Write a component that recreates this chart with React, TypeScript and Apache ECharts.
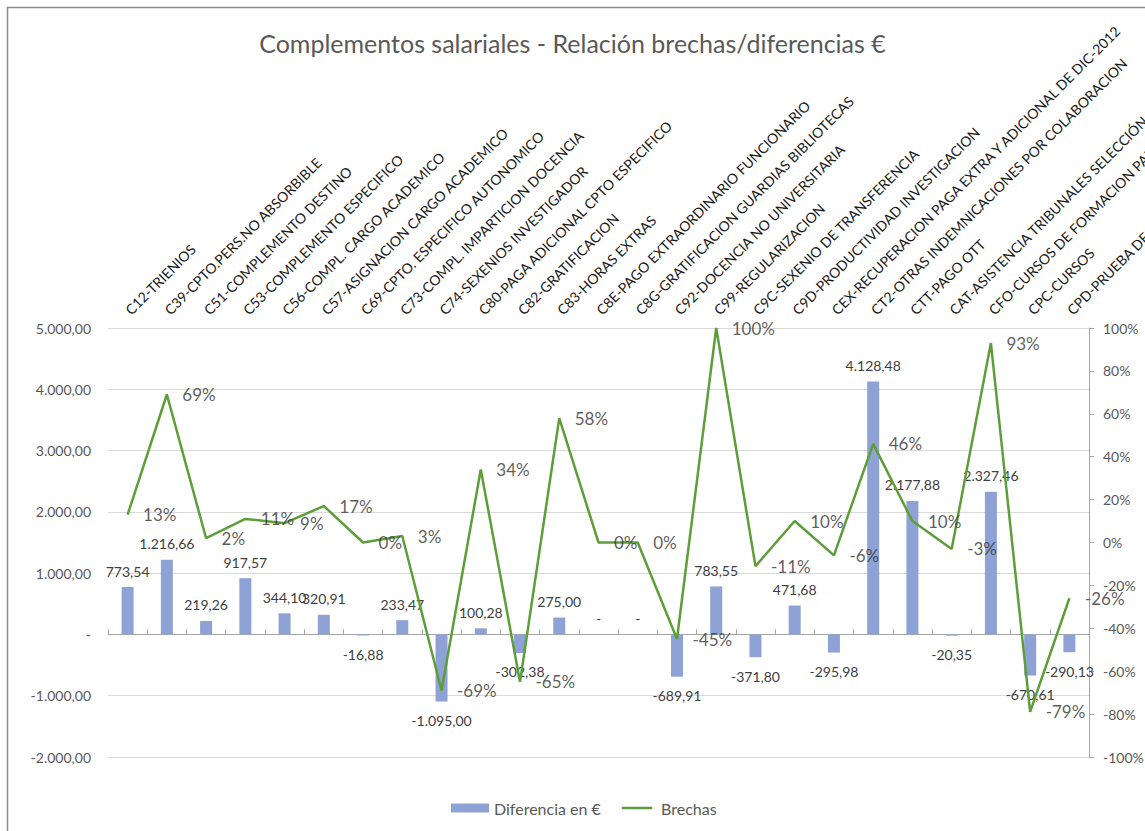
import React, { useEffect, useRef } from "react";
import * as echarts from "echarts";

const title = "Complementos salariales - Relación brechas/diferencias €";

const categories = [
  "C12-TRIENIOS",
  "C39-CPTO.PERS.NO ABSORBIBLE",
  "C51-COMPLEMENTO DESTINO",
  "C53-COMPLEMENTO ESPECIFICO",
  "C56-COMPL. CARGO ACADEMICO",
  "C57-ASIGNACION CARGO ACADEMICO",
  "C69-CPTO. ESPECIFICO AUTONOMICO",
  "C73-COMPL. IMPARTICION DOCENCIA",
  "C74-SEXENIOS INVESTIGADOR",
  "C80-PAGA ADICIONAL CPTO ESPECIFICO",
  "C82-GRATIFICACION",
  "C83-HORAS EXTRAS",
  "C8E-PAGO EXTRAORDINARIO FUNCIONARIO",
  "C8G-GRATIFICACION GUARDIAS BIBLIOTECAS",
  "C92-DOCENCIA NO UNIVERSITARIA",
  "C99-REGULARIZACION",
  "C9C-SEXENIO DE TRANSFERENCIA",
  "C9D-PRODUCTIVIDAD INVESTIGACION",
  "CEX-RECUPERACION PAGA EXTRA Y ADICIONAL DE DIC-2012",
  "CT2-OTRAS INDEMNICACIONES POR COLABORACION",
  "CTT-PAGO OTT",
  "CAT-ASISTENCIA TRIBUNALES SELECCIÓN DE",
  "CFO-CURSOS DE FORMACION PARA",
  "CPC-CURSOS",
  "CPD-PRUEBA DE",
];

const diferencias = [
  773.54, 1216.66, 219.26, 917.57, 344.1, 320.91, -16.88, 233.47, -1095.0,
  100.28, -302.38, 275.0, 0, 0, -689.91, 783.55, -371.8, 471.68, -295.98,
  4128.48, 2177.88, -20.35, 2327.46, -670.61, -290.13,
];

const brechas = [
  13, 69, 2, 11, 9, 17, 0, 3, -69, 34, -65, 58, 0, 0, -45, 100, -11, 10, -6,
  46, 10, -3, 93, -79, -26,
];

const seriesNames = ["Diferencia en €", "Brechas"];

const FONT = "Lato, 'Liberation Sans', sans-serif";
const BAR_COLOR = "#8EA2D6";
const LINE_COLOR = "#5E9E3A";

function fmtEs(v: number): string {
  if (Math.abs(v) < 1e-9) return "-";
  const neg = v < 0;
  const [i, d] = Math.abs(v).toFixed(2).split(".");
  const ii = i.replace(/\B(?=(\d{3})+(?!\d))/g, ".");
  return (neg ? "-" : "") + ii + "," + d;
}

export default function App() {
  const ref = useRef<HTMLDivElement>(null);

  useEffect(() => {
    if (!ref.current) return;
    const chart = echarts.init(ref.current, undefined, { renderer: "svg" });

    const barData = diferencias.map((v) => ({
      value: v,
      label: {
        position: v < 0 ? "bottom" : "top",
        distance: v < 0 ? 12 : 9,
      },
    }));

    chart.setOption({
      animation: false,
      backgroundColor: "#ffffff",
      textStyle: { fontFamily: FONT },
      title: {
        text: title,
        left: "center",
        top: 25,
        textStyle: {
          fontFamily: FONT,
          fontSize: 25,
          fontWeight: "normal",
          color: "#595959",
        },
      },
      graphic: [
        {
          type: "rect",
          shape: { x: 7.5, y: 7.5, width: 1300, height: 1000 },
          style: { fill: "none", stroke: "#8c8c8c", lineWidth: 1.5 },
          silent: true,
          z: -1,
        },
      ],
      legend: {
        data: [
          { name: seriesNames[0], icon: "rect" },
          {
            name: seriesNames[1],
            icon: "path://M0,0H40V0.02H0Z M0,4.4H40V7.4H0Z M0,11.78H40V11.8H0Z",
          },
        ],
        left: 446,
        top: 795,
        itemWidth: 38,
        itemHeight: 9,
        itemGap: 21,
        textStyle: { fontFamily: FONT, fontSize: 16, color: "#595959" },
      },
      grid: {
        left: 108,
        right: 56,
        top: 328,
        bottom: 74,
        containLabel: false,
        outerBoundsMode: "none",
      },
      xAxis: {
        type: "category",
        position: "top",
        data: categories,
        boundaryGap: true,
        axisLine: { show: true, lineStyle: { color: "#a6a6a6", width: 1 } },
        axisTick: { show: true, inside: false, length: 5, lineStyle: { color: "#a6a6a6" } },
        axisLabel: {
          rotate: 45,
          interval: 0,
          margin: 16,
          fontFamily: FONT,
          fontSize: 14,
          color: "#1a1a1a",
        },
        splitLine: { show: false },
      },
      yAxis: [
        {
          type: "value",
          min: -2000,
          max: 5000,
          interval: 1000,
          position: "left",
          axisLine: { show: false },
          axisTick: { show: false },
          axisLabel: {
            margin: 17,
            fontFamily: FONT,
            fontSize: 14,
            color: "#595959",
            formatter: (v: number) => fmtEs(v),
          },
          splitLine: { show: true, lineStyle: { color: "#d9d9d9", width: 1 } },
        },
        {
          type: "value",
          min: -100,
          max: 100,
          interval: 20,
          position: "right",
          axisLine: { show: true, lineStyle: { color: "#a6a6a6", width: 1 } },
          axisTick: { show: true, inside: false, length: 5, lineStyle: { color: "#a6a6a6" } },
          axisLabel: {
            margin: 14,
            fontFamily: FONT,
            fontSize: 14,
            color: "#595959",
            formatter: (v: number) => Math.round(v) + "%",
          },
          splitLine: { show: false },
        },
      ],
      series: [
        {
          name: seriesNames[0],
          type: "bar",
          yAxisIndex: 0,
          data: barData,
          barWidth: 12,
          itemStyle: { color: BAR_COLOR },
          label: {
            show: true,
            fontFamily: FONT,
            fontSize: 14,
            color: "#404040",
            formatter: (p: any) => fmtEs(p.value),
          },
          z: 2,
        },
        {
          name: seriesNames[1],
          type: "line",
          yAxisIndex: 1,
          data: brechas,
          symbol: "none",
          lineStyle: { color: LINE_COLOR, width: 2.5 },
          itemStyle: { color: LINE_COLOR },
          z: 3,
        },
        {
          name: "brechas-labels",
          type: "scatter",
          yAxisIndex: 1,
          data: brechas,
          symbolSize: 1,
          itemStyle: { color: "rgba(0,0,0,0)" },
          label: {
            show: true,
            position: "right",
            distance: 15,
            fontFamily: FONT,
            fontSize: 17,
            color: "#333333",
            formatter: (p: any) => Math.round(p.value) + "%",
          },
          silent: true,
          z: 4,
        },
      ],
    });

    return () => chart.dispose();
  }, []);

  return (
    <div
      ref={ref}
      style={{ position: "fixed", left: 0, top: 0, width: 1145, height: 831, background: "#fff" }}
    />
  );
}
